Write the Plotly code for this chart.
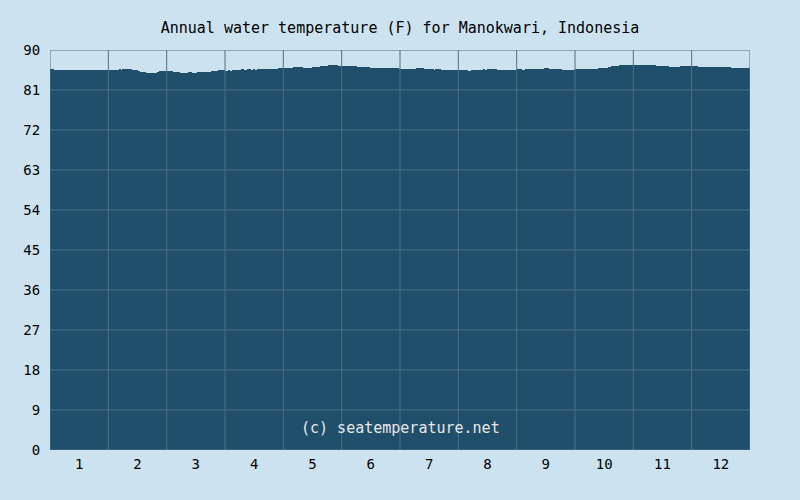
import plotly.graph_objects as go

# Daily water temperature (F), one list per month
jan = [85.7, 85.7, 85.5, 85.5, 85.5, 85.6, 85.6, 85.5, 85.5, 85.5, 85.5, 85.5, 85.5, 85.5, 85.5, 85.5,
       85.5, 85.5, 85.5, 85.5, 85.5, 85.5, 85.5, 85.5, 85.5, 85.5, 85.5, 85.5, 85.5, 85.5, 85.4]
feb = [85.6, 85.6, 85.6, 85.6, 85.6, 85.7, 85.6, 85.7, 85.7, 85.7, 85.7, 85.7, 85.5, 85.4, 85.4,
       85.3, 85.1, 85.0, 85.0, 84.8, 84.8, 84.8, 84.8, 84.8, 84.8, 85.0, 85.3, 85.3, 85.3, 85.3]
mar = [85.3, 85.3, 85.3, 85.1, 85.0, 85.0, 85.0, 84.8, 84.8, 84.8, 84.8, 85.0, 85.0, 84.8, 84.8, 84.8,
       85.0, 85.0, 85.0, 85.0, 85.0, 85.0, 85.1, 85.3, 85.3, 85.3, 85.3, 85.4, 85.4, 85.4, 85.3]
apr = [85.3, 85.4, 85.3, 85.4, 85.4, 85.4, 85.5, 85.5, 85.7, 85.5, 85.6, 85.7, 85.7, 85.6, 85.7,
       85.6, 85.7, 85.7, 85.7, 85.7, 85.7, 85.7, 85.7, 85.7, 85.7, 85.7, 85.7, 85.9, 85.9, 85.9]
may = [86.0, 86.0, 86.0, 86.0, 86.0, 86.2, 86.2, 86.2, 86.2, 86.2, 86.0, 86.0, 86.0, 86.0, 86.0,
       86.2, 86.2, 86.2, 86.2, 86.4, 86.4, 86.4, 86.4, 86.6, 86.6, 86.6, 86.6, 86.6, 86.4, 86.4]
jun = [86.4, 86.4, 86.4, 86.4, 86.4, 86.4, 86.4, 86.4, 86.2, 86.2, 86.2, 86.2, 86.2, 86.2, 86.2,
       86.0, 86.0, 86.0, 86.0, 86.0, 86.0, 86.0, 86.0, 86.0, 86.0, 86.0, 86.0, 86.0, 86.0, 86.0, 85.7]
jul = [85.7, 85.7, 85.7, 85.7, 85.7, 85.7, 85.7, 85.7, 86.0, 86.0, 86.0, 86.0, 85.7, 85.7, 85.7,
       85.7, 85.7, 85.5, 85.7, 85.7, 85.7, 85.5, 85.5, 85.5, 85.5, 85.5, 85.5, 85.5, 85.5, 85.5]
aug = [85.5, 85.5, 85.5, 85.5, 85.5, 85.3, 85.3, 85.5, 85.5, 85.5, 85.5, 85.5, 85.5, 85.7, 85.5, 85.7,
       85.7, 85.7, 85.7, 85.7, 85.5, 85.5, 85.5, 85.5, 85.5, 85.5, 85.5, 85.5, 85.5, 85.5, 85.5]
sep = [85.7, 85.7, 85.5, 85.5, 85.7, 85.7, 85.7, 85.7, 85.7, 85.7, 85.7, 85.7, 85.7, 85.7, 85.9,
       85.9, 85.7, 85.7, 85.7, 85.7, 85.7, 85.7, 85.7, 85.5, 85.5, 85.5, 85.5, 85.5, 85.5, 85.5]
oct_ = [85.7, 85.7, 85.7, 85.7, 85.7, 85.7, 85.7, 85.7, 85.7, 85.7, 85.7, 85.7, 86.0, 86.0, 86.0, 86.0,
        86.0, 86.2, 86.2, 86.4, 86.4, 86.4, 86.4, 86.6, 86.6, 86.6, 86.6, 86.6, 86.6, 86.6, 86.6]
nov = [86.6, 86.6, 86.6, 86.6, 86.6, 86.6, 86.6, 86.6, 86.6, 86.6, 86.6, 86.4, 86.4, 86.4, 86.4,
       86.4, 86.4, 86.4, 86.2, 86.2, 86.2, 86.2, 86.2, 86.2, 86.4, 86.4, 86.4, 86.4, 86.4, 86.4]
dec = [86.4, 86.4, 86.4, 86.2, 86.2, 86.2, 86.2, 86.2, 86.2, 86.2, 86.2, 86.2, 86.2, 86.2, 86.2,
       86.2, 86.2, 86.2, 86.2, 86.2, 86.0, 86.0, 86.0, 86.0, 86.0, 86.0, 86.0, 86.0, 86.0, 86.0]

month_labels = ["1", "2", "3", "4", "5", "6", "7", "8", "9", "10", "11", "12"]
y_ticks = [0, 9, 18, 27, 36, 45, 54, 63, 72, 81, 90]
title_text = "Annual water temperature (F) for Manokwari, Indonesia"
credit_text = "(c) seatemperature.net"

temps = jan + feb + mar + apr + may + jun + jul + aug + sep + oct_ + nov + dec
n_days = len(temps)
n_months = len(month_labels)
day_w = n_months / n_days
xs = [(i + 0.5) * day_w for i in range(n_days)]

BG = "#cce3ef"
BAR = "#1f4f6b"
GRID = "#4a7189"
FONT = "DejaVu Sans Mono"

fig = go.Figure()
fig.add_trace(go.Bar(x=xs, y=temps, width=day_w, marker=dict(color=BAR, line=dict(width=0)),
                     hoverinfo="y", showlegend=False))

shapes = []
for k in range(1, n_months):
    shapes.append(dict(type="line", xref="x", yref="y", x0=k, x1=k, y0=y_ticks[0], y1=y_ticks[-1],
                       line=dict(color=GRID, width=1), layer="above"))
for v in y_ticks[1:-1]:
    shapes.append(dict(type="line", xref="x", yref="y", x0=0, x1=n_months, y0=v, y1=v,
                       line=dict(color=GRID, width=1), layer="above"))
shapes.append(dict(type="rect", xref="x", yref="y", x0=0, x1=n_months, y0=y_ticks[0], y1=y_ticks[-1],
                   line=dict(color=GRID, width=1), layer="above"))

fig.update_layout(
    width=800, height=500,
    paper_bgcolor=BG, plot_bgcolor=BG,
    margin=dict(l=50, r=50, t=50, b=50),
    bargap=0,
    font=dict(family=FONT, size=14, color="#000000"),
    title=dict(text=title_text, x=0.5, xanchor="center", y=1 - 28 / 500, yanchor="middle",
               yref="container", font=dict(family=FONT, size=15, color="#000000")),
    xaxis=dict(range=[0, n_months], tickvals=[k + 0.5 for k in range(n_months)], ticktext=month_labels,
               showgrid=False, zeroline=False, showline=False, ticks="outside", ticklen=1,
               tickcolor="rgba(0,0,0,0)", fixedrange=True),
    yaxis=dict(range=[y_ticks[0], y_ticks[-1]], tickvals=y_ticks, showgrid=False, zeroline=False,
               showline=False, ticks="outside", ticklen=6, tickcolor="rgba(0,0,0,0)", fixedrange=True),
    shapes=shapes,
    annotations=[dict(text=credit_text, xref="paper", yref="paper", x=0.5, y=(450 - 428) / 400,
                      xanchor="center", yanchor="middle", showarrow=False,
                      font=dict(family=FONT, size=15, color="#e8e8e8"))],
)

fig.write_html("out.html", config={"displayModeBar": False},
               post_script="document.body.style.margin='0';document.body.style.background='#cce3ef';")
